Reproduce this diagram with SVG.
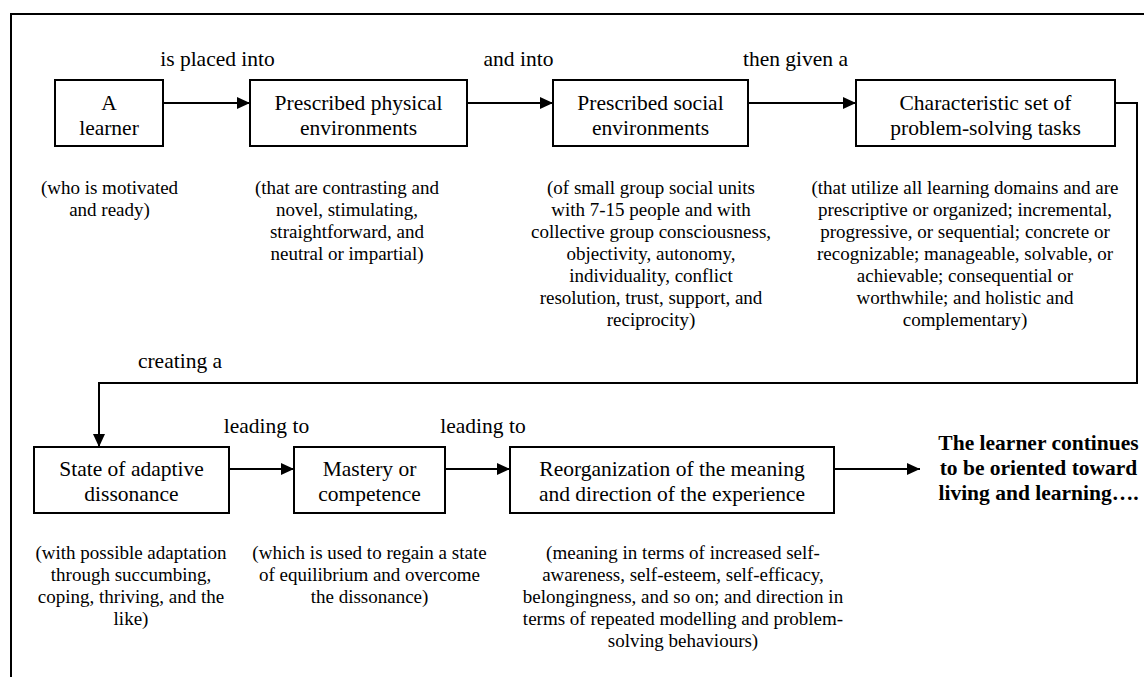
<svg xmlns="http://www.w3.org/2000/svg" width="1144" height="677" viewBox="0 0 1144 677">
<style>
  text { font-family: "Liberation Serif", "Times New Roman", serif; fill: #000; }
  .lbl { font-size: 21.5px; text-anchor: middle; }
  .node rect { fill: #fff; stroke: #000; stroke-width: 2; }
  .bt { font-size: 21.5px; text-anchor: middle; }
  .note { font-size: 19px; text-anchor: middle; }
  .bold { font-size: 21.5px; font-weight: bold; text-anchor: middle; }
  .edge { fill: none; stroke: #000; stroke-width: 2; }
  .frame { fill: none; stroke: #000; stroke-width: 2; }
</style>
<defs>
  <marker id="ah" markerUnits="userSpaceOnUse" markerWidth="14" markerHeight="12" refX="13" refY="6" orient="auto">
    <path d="M0,0 L13,6 L0,12 z" fill="#000"/>
  </marker>
</defs>
<rect x="0" y="0" width="1144" height="677" fill="#fff"/>
<path class="frame" d="M11,677 V14 H1144"/>

<g id="connectors">
  <path class="edge" d="M163,103 H250" marker-end="url(#ah)"/>
  <path class="edge" d="M467,103 H553" marker-end="url(#ah)"/>
  <path class="edge" d="M748,103 H856" marker-end="url(#ah)"/>
  <path class="edge" d="M1115,103 H1137 V383 H99 V447" marker-end="url(#ah)"/>
  <path class="edge" d="M229,469 H294" marker-end="url(#ah)"/>
  <path class="edge" d="M445,469 H510" marker-end="url(#ah)"/>
  <path class="edge" d="M834,469 H920" marker-end="url(#ah)"/>
  <text class="lbl" x="217.5" y="65.5">is placed into</text>
  <text class="lbl" x="518.5" y="65.5">and into</text>
  <text class="lbl" x="795.5" y="65.5">then given a</text>
  <text class="lbl" x="180" y="367.5">creating a</text>
  <text class="lbl" x="266.5" y="432.5">leading to</text>
  <text class="lbl" x="483" y="432.5">leading to</text>
</g>

<g id="learner" class="node">
  <rect x="55" y="80" width="108" height="66"/>
  <text class="bt" x="109" y="110">A</text>
  <text class="bt" x="109" y="134.5">learner</text>
  <text class="note" x="109.5" y="194">(who is motivated</text>
  <text class="note" x="109.5" y="216">and ready)</text>
</g>

<g id="physical" class="node">
  <rect x="250" y="80" width="217" height="66"/>
  <text class="bt" x="358.5" y="110">Prescribed physical</text>
  <text class="bt" x="358.5" y="134.5">environments</text>
  <text class="note" x="347" y="194">(that are contrasting and</text>
  <text class="note" x="347" y="216">novel, stimulating,</text>
  <text class="note" x="347" y="238">straightforward, and</text>
  <text class="note" x="347" y="260">neutral or impartial)</text>
</g>

<g id="social" class="node">
  <rect x="553" y="80" width="195" height="66"/>
  <text class="bt" x="650.5" y="110">Prescribed social</text>
  <text class="bt" x="650.5" y="134.5">environments</text>
  <text class="note" x="651" y="194">(of small group social units</text>
  <text class="note" x="651" y="216">with 7-15 people and with</text>
  <text class="note" x="651" y="238">collective group consciousness,</text>
  <text class="note" x="651" y="260">objectivity, autonomy,</text>
  <text class="note" x="651" y="282">individuality, conflict</text>
  <text class="note" x="651" y="304">resolution, trust, support, and</text>
  <text class="note" x="651" y="326">reciprocity)</text>
</g>

<g id="tasks" class="node">
  <rect x="856" y="80" width="259" height="66"/>
  <text class="bt" x="985.5" y="110">Characteristic set of</text>
  <text class="bt" x="985.5" y="134.5">problem-solving tasks</text>
  <text class="note" x="965" y="194">(that utilize all learning domains and are</text>
  <text class="note" x="965" y="216">prescriptive or organized; incremental,</text>
  <text class="note" x="965" y="238">progressive, or sequential; concrete or</text>
  <text class="note" x="965" y="260">recognizable; manageable, solvable, or</text>
  <text class="note" x="965" y="282">achievable; consequential or</text>
  <text class="note" x="965" y="304">worthwhile; and holistic and</text>
  <text class="note" x="965" y="326">complementary)</text>
</g>

<g id="dissonance" class="node">
  <rect x="34" y="447" width="195" height="66"/>
  <text class="bt" x="131.5" y="476">State of adaptive</text>
  <text class="bt" x="131.5" y="501">dissonance</text>
  <text class="note" x="131" y="559">(with possible adaptation</text>
  <text class="note" x="131" y="581">through succumbing,</text>
  <text class="note" x="131" y="603">coping, thriving, and the</text>
  <text class="note" x="131" y="625">like)</text>
</g>

<g id="mastery" class="node">
  <rect x="294" y="447" width="151" height="66"/>
  <text class="bt" x="369.5" y="476">Mastery or</text>
  <text class="bt" x="369.5" y="501">competence</text>
  <text class="note" x="369.5" y="559">(which is used to regain a state</text>
  <text class="note" x="369.5" y="581">of equilibrium and overcome</text>
  <text class="note" x="369.5" y="603">the dissonance)</text>
</g>

<g id="reorganization" class="node">
  <rect x="510" y="447" width="324" height="66"/>
  <text class="bt" x="672" y="476">Reorganization of the meaning</text>
  <text class="bt" x="672" y="501">and direction of the experience</text>
  <text class="note" x="683" y="559">(meaning in terms of increased self-</text>
  <text class="note" x="683" y="581">awareness, self-esteem, self-efficacy,</text>
  <text class="note" x="683" y="603">belongingness, and so on; and direction in</text>
  <text class="note" x="683" y="625">terms of repeated modelling and problem-</text>
  <text class="note" x="683" y="647">solving behaviours)</text>
</g>

<g id="outcome" class="node">
  <text class="bold" x="1038.5" y="450">The learner continues</text>
  <text class="bold" x="1038.5" y="475">to be oriented toward</text>
  <text class="bold" x="1038.5" y="500">living and learning….</text>
</g>
</svg>
